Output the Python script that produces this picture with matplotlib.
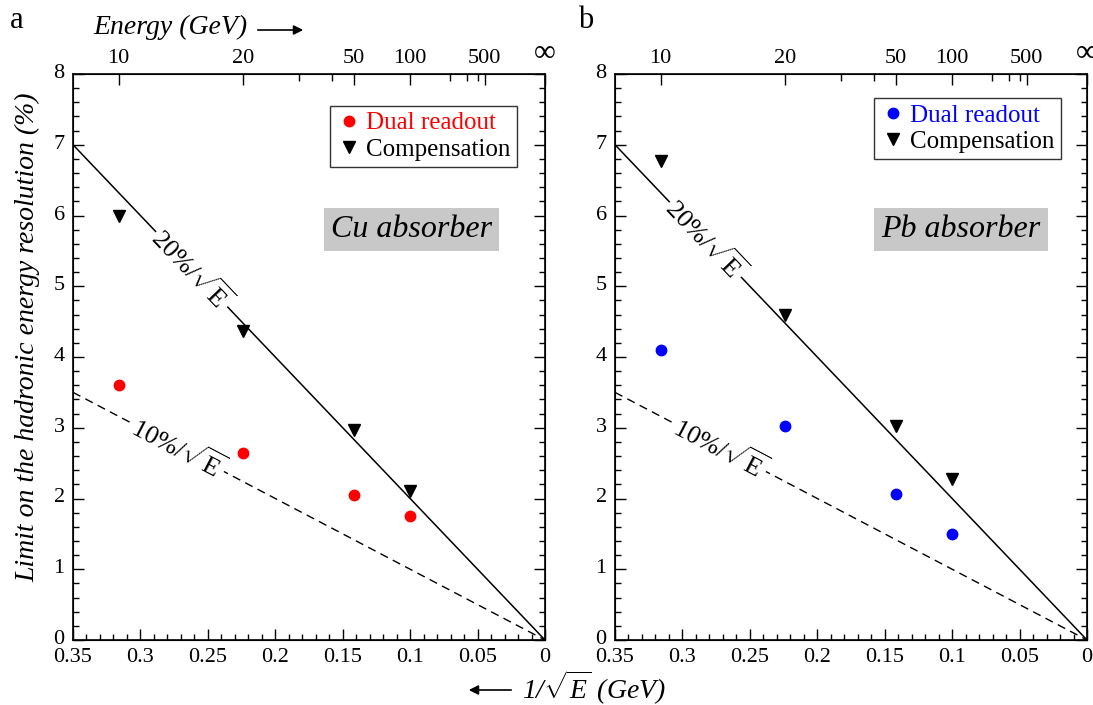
import numpy as np
import matplotlib
matplotlib.use('Agg')
import matplotlib.pyplot as plt
import matplotlib.transforms as mtransforms
from matplotlib.ticker import MultipleLocator

plt.rcParams['font.family'] = ['Liberation Serif', 'DejaVu Serif']
plt.rcParams['mathtext.fontset'] = 'custom'
plt.rcParams['mathtext.rm'] = 'Liberation Serif'
plt.rcParams['mathtext.it'] = 'Liberation Serif:italic'

# energies of the measured points (GeV)
energies = [10, 20, 50, 100]

# panel a: Cu absorber
cu_dual = [3.6, 2.65, 2.05, 1.75]
cu_comp = [6.0, 4.37, 2.97, 2.1]
# panel b: Pb absorber
pb_dual = [4.1, 3.02, 2.07, 1.5]
pb_comp = [6.77, 4.6, 3.03, 2.28]

# top axis
top_major = [10, 20, 50, 100, 500]
top_labels = ['10', '20', '50', '100', '500', '∞']
top_minor = [30, 40, 200, 300, 400]

x_pts = 1 / np.sqrt(energies)
x_line = np.array([0.35, 0.0])

fig = plt.figure(figsize=(10.93, 7.05), dpi=100)
ax_a = fig.add_axes([73 / 1093, 65 / 705, 472 / 1093, 566 / 705])
ax_b = fig.add_axes([615 / 1093, 65 / 705, 472 / 1093, 566 / 705])


def draw_panel(ax, dual, comp, dual_color, name, lab20, lab10, leg_anchor, box_xy):
    ax.set_xlim(0.35, 0)
    ax.set_ylim(0, 8)
    ax.plot(x_line, 20 * x_line, color='black', lw=1.1)
    ax.plot(x_line, 10 * x_line, color='black', lw=1.0, ls=(0, (6, 4)))
    ax.plot(x_pts, dual, 'o', color=dual_color, ms=7.5, label='Dual readout', zorder=5)
    ax.plot(x_pts, comp, 'v', color='black', ms=8, label='Compensation', zorder=5)

    ax.xaxis.set_minor_locator(MultipleLocator(0.01))
    ax.yaxis.set_major_locator(MultipleLocator(1))
    ax.yaxis.set_minor_locator(MultipleLocator(0.2))
    ax.set_xticks([0.35, 0.3, 0.25, 0.2, 0.15, 0.1, 0.05, 0])
    ax.set_xticklabels(['0.35', '0.3', '0.25', '0.2', '0.15', '0.1', '0.05', '0'])
    ax.tick_params(which='both', direction='in', top=False, right=True,
                   labelsize=16, width=1.0, pad=6)
    ax.tick_params(which='major', length=8)
    ax.tick_params(which='minor', length=4)
    for s in ax.spines.values():
        s.set_linewidth(1.2)
    # y tick labels sit a little above their ticks in the original
    shift = mtransforms.ScaledTranslation(0, 3 / 100, fig.dpi_scale_trans)
    for lab in ax.get_yticklabels():
        lab.set_transform(lab.get_transform() + shift)

    # top energy axis
    axt = ax.twiny()
    axt.set_xlim(0.35, 0)
    axt.set_xticks(list(1 / np.sqrt(top_major)) + [0])
    axt.set_xticklabels(top_labels)
    axt.set_xticks(1 / np.sqrt(top_minor), minor=True)
    axt.tick_params(which='both', direction='in', labelsize=16, width=1.0, pad=4)
    axt.tick_params(which='major', length=8)
    axt.tick_params(which='minor', length=5)
    labs = axt.get_xticklabels()
    labs[-1].set_fontsize(22)

    # line labels along the lines
    for xc, k, txt in [(lab20, 20, '20%/$\\sqrt{\\mathrm{E}}$'),
                       (lab10, 10, '10%/$\\sqrt{\\mathrm{E}}$')]:
        p1 = ax.transData.transform((0.35, k * 0.35))
        p2 = ax.transData.transform((0.0, 0.0))
        ang = np.degrees(np.arctan2(p2[1] - p1[1], p2[0] - p1[0]))
        ax.text(xc, k * xc, txt, rotation=ang, rotation_mode='anchor',
                ha='center', va='center', fontsize=19,
                bbox=dict(facecolor='white', edgecolor='none', pad=1), zorder=4)

    leg = ax.legend(loc='upper right', bbox_to_anchor=leg_anchor, fontsize=18,
                    frameon=True, fancybox=False, edgecolor='black',
                    handletextpad=0.2, handlelength=1.0, borderpad=0.25,
                    labelspacing=0.15, borderaxespad=0,
                    labelcolor='markerfacecolor')
    leg.get_frame().set_linewidth(1.0)

    ax.text(box_xy[0], box_xy[1], name, transform=ax.transAxes, fontsize=23,
            style='italic', ha='center', va='center',
            bbox=dict(facecolor='#c8c8c8', edgecolor='none', pad=5))


draw_panel(ax_a, cu_dual, cu_comp, '#ff0000', 'Cu absorber', 0.262, 0.272,
           (0.94, 0.944), (0.718, 0.725))
draw_panel(ax_b, pb_dual, pb_comp, '#0000ff', 'Pb absorber', 0.283, 0.272,
           (0.945, 0.958), (0.733, 0.725))

ax_a.set_ylabel('Limit on the hadronic energy resolution (%)', fontsize=20,
                style='italic')
ax_a.yaxis.set_label_coords(-0.07, 0.535)

# figure texts
fig.text(10 / 1093, 1 - 20 / 705, 'a', fontsize=22, ha='left', va='center')
fig.text(578 / 1093, 1 - 20 / 705, 'b', fontsize=22, ha='left', va='center')
fig.text(93 / 1093, 1 - 27 / 705, 'Energy (GeV)', fontsize=20, style='italic',
         ha='left', va='center')
fig.add_artist(matplotlib.patches.FancyArrowPatch(
    (255 / 1093, 1 - 30 / 705), (306 / 1093, 1 - 30 / 705),
    transform=fig.transFigure, arrowstyle='-|>', mutation_scale=14, lw=1.2,
    color='black'))
fig.add_artist(matplotlib.patches.FancyArrowPatch(
    (514 / 1093, 1 - 690 / 705), (466 / 1093, 1 - 690 / 705),
    transform=fig.transFigure, arrowstyle='-|>', mutation_scale=14, lw=1.2,
    color='black'))
fig.text(522 / 1093, 1 - 688 / 705, '1/$\\sqrt{E}$ (GeV)', fontsize=20,
         style='italic', ha='left', va='center')

fig.savefig('out.png', dpi=100)
